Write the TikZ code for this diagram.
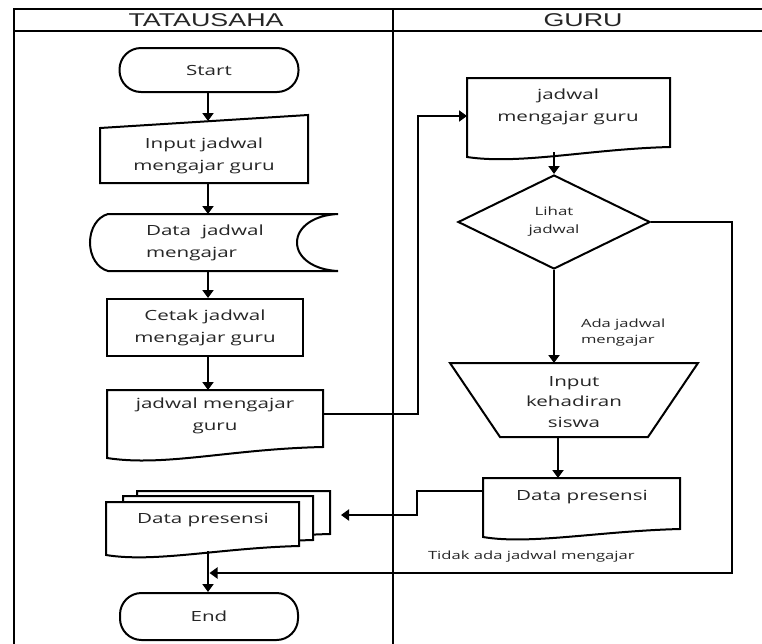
\documentclass[tikz,border=0pt]{standalone}
\usepackage{fontspec}
\usetikzlibrary{arrows.meta,shapes.geometric}
\newfontfamily\boxfont[FakeStretch=1.47]{Open Sans}
\newfontfamily\headfont[FakeStretch=1.45]{Liberation Sans}

\begin{document}
\begin{tikzpicture}[x=1pt,y=-1pt,
  line width=2pt,
  outline/.style={draw=black, line width=2pt, fill=white},
  txt/.style={inner sep=0pt, align=center, text=black!85,
    font=\boxfont\fontsize{14}{22}\selectfont},
  small/.style={inner sep=0pt, align=left, text=black!85,
    font=\boxfont\fontsize{11.3}{16}\selectfont},
  head/.style={inner sep=0pt, text=black!85,
    font=\headfont\fontsize{18.5}{20}\selectfont},
  terminal/.style={outline, txt, rounded corners=21.5pt},
  flow/.style={draw=black, line width=2pt, -{Triangle[length=8pt,width=11pt]}},
  link/.style={draw=black, line width=2pt}
]
\useasboundingbox (0,0) rectangle (762,643);

% swimlane frame
\draw[link] (14,650) -- (14,9) -- (770,9);
\draw[link] (14,31) -- (770,31);
\draw[link] (393,9) -- (393,650);
\node[head] (laneTU) at (206,20) {TATAUSAHA};
\node[head] (laneGuru) at (583,20) {GURU};

% ---------- TATAUSAHA lane ----------
\node[terminal, minimum width=179pt, minimum height=44pt] (start) at (209,70) {Start};

% manual input
\draw[outline] (100,128) -- (308,115) -- (308,183) -- (100,183) -- cycle;
\node[txt] (inp) at (204,156) {Input jadwal\\mengajar guru};
\coordinate (inpTop) at (208,121);
\coordinate (inpBot) at (208,183);

% stored data
\draw[outline] (108,214) -- (338,214)
  .. controls (314,215) and (297,227) .. (297,242.5)
  .. controls (297,258) and (314,270) .. (338,271)
  -- (108,271)
  .. controls (97,268) and (90,256) .. (90,242.5)
  .. controls (90,229) and (97,217) .. (108,214) -- cycle;
\node[txt, align=left, anchor=west] (store) at (145,242.5) {Data\ \ jadwal\\mengajar};
\coordinate (storeTop) at (208,214);
\coordinate (storeBot) at (208,271);

% print process
\node[outline, txt, minimum width=196pt, minimum height=57pt] (cetak) at (205,327.5) {Cetak jadwal\\mengajar guru};

% printed document
\draw[outline] (323,447) -- (323,390) -- (107,390) -- (107,458)
  .. controls (165,467) and (230,449) .. (323,447) -- cycle;
\node[txt] (doc) at (215,416) {jadwal mengajar\\guru};
\coordinate (docTop) at (208,390);
\coordinate (docOut) at (323,414);

% stacked documents
\draw[outline] (330,534) -- (330,491) -- (137,491) -- (137,543)
  .. controls (190,551) and (250,536) .. (330,534) -- cycle;
\draw[outline] (313,540) -- (313,496) -- (123,496) -- (123,549)
  .. controls (175,557) and (235,542) .. (313,540) -- cycle;
\draw[outline] (299,546) -- (299,502) -- (106,502) -- (106,555)
  .. controls (155,563) and (220,548) .. (299,546) -- cycle;
\node[txt] (mdoc) at (203,520) {Data presensi};
\coordinate (mdocIn) at (341,515);
\coordinate (mdocOut) at (208,551);

\node[terminal, minimum width=178pt, minimum height=47pt] (end) at (209,616.5) {End};

% ---------- GURU lane ----------
\draw[outline] (670,147) -- (670,78) -- (467,78) -- (467,157)
  .. controls (520,165) and (590,149) .. (670,147) -- cycle;
\node[txt] (gdoc) at (568,107) {jadwal\\mengajar guru};
\coordinate (gdocIn) at (467,116);
\coordinate (gdocOut) at (554,152);

\node[diamond, outline, inner sep=0pt, minimum width=192pt, minimum height=94pt,
  align=center, text=black!85, font=\boxfont\fontsize{11.5}{18}\selectfont]
  (dia) at (554,222) {Lihat\\jadwal};

% manual operation
\draw[outline] (450,363) -- (698,363) -- (648,437) -- (500,437) -- cycle;
\node[txt, font=\boxfont\fontsize{14}{20.5}\selectfont] (trap) at (574,402) {Input\\kehadiran\\siswa};
\coordinate (trapIn) at (554,363);
\coordinate (trapOut) at (558,437);

% attendance document
\draw[outline] (680,529) -- (680,478) -- (483,478) -- (483,537)
  .. controls (530,545) and (600,531) .. (680,529) -- cycle;
\node[txt] (gpres) at (582,497) {Data presensi};
\coordinate (gpresTop) at (558,478);
\coordinate (gpresOut) at (483,491);

% labels
\node[small, anchor=west] (lblYes) at (580,333) {Ada jadwal\\mengajar};
\node[small, anchor=west] (lblNo) at (427,557) {Tidak ada jadwal mengajar};

% ---------- connectors ----------
\draw[flow] (start.south -| inpTop) -- (inpTop);
\draw[flow] (inpBot) -- (storeTop);
\draw[flow] (storeBot) -- (cetak.north -| storeBot);
\draw[flow] (cetak.south -| docTop) -- (docTop);
\draw[flow] (docOut) -- (418,414) -- (418,116) -- (gdocIn);
\draw[flow] (gdocOut) -- (dia.north);
\draw[flow] (dia.south) -- (trapIn);
\draw[flow] (trapOut) -- (gpresTop);
\draw[flow] (gpresOut) -- (417,491) -- (417,515) -- (mdocIn);
\draw[flow] (mdocOut) -- (end.north -| mdocOut);
\draw[flow] (dia.east) -- (732,222) -- (732,573) -- (209.5,573);
\end{tikzpicture}
\end{document}
